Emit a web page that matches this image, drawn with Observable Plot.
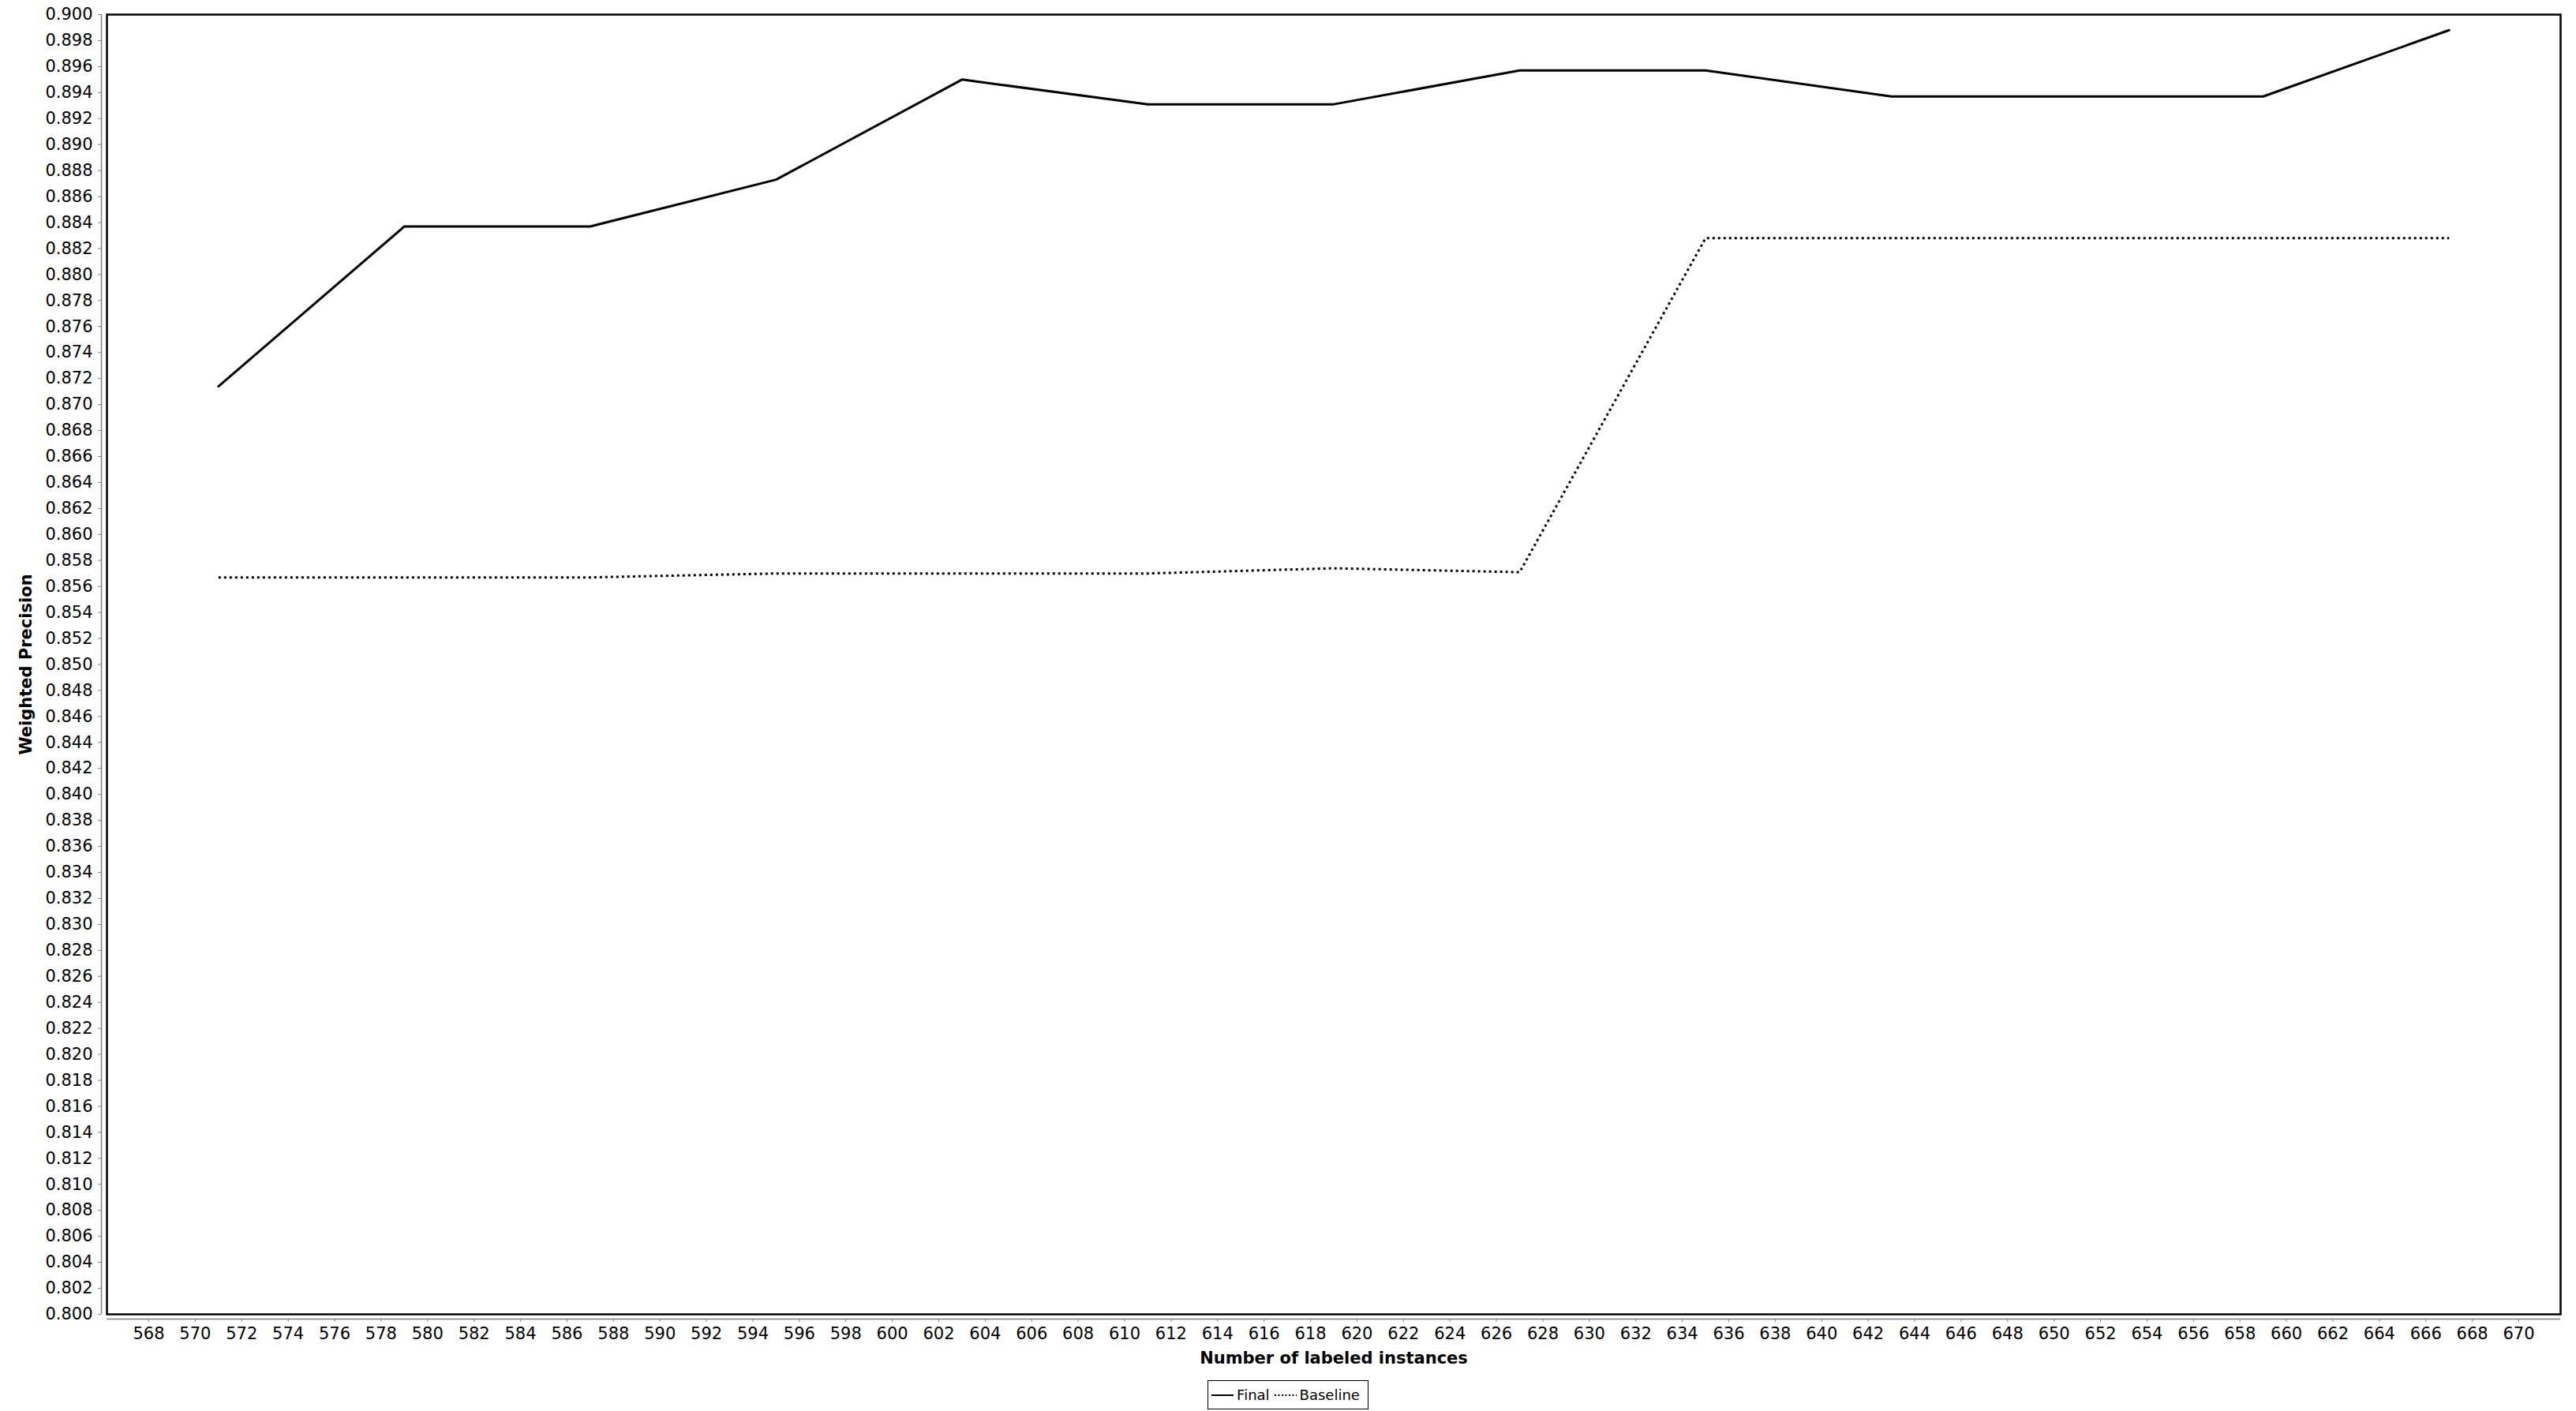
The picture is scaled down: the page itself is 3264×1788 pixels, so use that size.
<!DOCTYPE html>
<html>
<head>
<meta charset="utf-8">
<script src="https://cdn.jsdelivr.net/npm/d3@7"></script>
<script src="https://cdn.jsdelivr.net/npm/@observablehq/plot@0.6"></script>
<style>
  html, body { margin: 0; padding: 0; background: #fff; }
  #chart { width: 3264px; }
  #legend { width: 3264px; display: flex; justify-content: center; margin-top: 4px; }
  .legend-box { border: 1px solid #000; height: 35px; display: flex; align-items: center; padding: 0 4px 0 4px;
    font-family: "DejaVu Sans", sans-serif; font-size: 18px; color: #000; }
  .legend-box svg { display: block; }
  .legend-item { display: flex; align-items: center; margin-right: 6px; }
  .legend-item span { margin-left: 4px; }
</style>
</head>
<body>
<div id="chart"></div>
<div id="legend"></div>
<script>
// ---- data ----
const instances = [571, 579, 587, 595, 603, 611, 619, 627, 635, 643, 651, 659, 667];
const finalPrecision = [0.8714, 0.8837, 0.8837, 0.8873, 0.8950, 0.8931, 0.8931, 0.8957, 0.8957, 0.8937, 0.8937, 0.8937, 0.8988];
const baselinePrecision = [0.8567, 0.8567, 0.8567, 0.8570, 0.8570, 0.8570, 0.8574, 0.8571, 0.8828, 0.8828, 0.8828, 0.8828, 0.8828];
const seriesNames = ["Final", "Baseline"];
const xTicks = [568, 570, 572, 574, 576, 578, 580, 582, 584, 586, 588, 590, 592, 594, 596, 598, 600, 602, 604, 606, 608, 610, 612, 614, 616, 618, 620, 622, 624, 626, 628, 630, 632, 634, 636, 638, 640, 642, 644, 646, 648, 650, 652, 654, 656, 658, 660, 662, 664, 666, 668, 670];
const yTicks = [0.800, 0.802, 0.804, 0.806, 0.808, 0.810, 0.812, 0.814, 0.816, 0.818, 0.820, 0.822, 0.824, 0.826, 0.828, 0.830, 0.832, 0.834, 0.836, 0.838, 0.840, 0.842, 0.844, 0.846, 0.848, 0.850, 0.852, 0.854, 0.856, 0.858, 0.860, 0.862, 0.864, 0.866, 0.868, 0.870, 0.872, 0.874, 0.876, 0.878, 0.880, 0.882, 0.884, 0.886, 0.888, 0.890, 0.892, 0.894, 0.896, 0.898, 0.900];
const xDomain = [566.2, 671.8];
const yDomain = [0.800, 0.900];
const xLabel = "Number of labeled instances";
const yLabel = "Weighted Precision";

const finalData = instances.map((x, i) => ({x, y: finalPrecision[i]}));
const baselineData = instances.map((x, i) => ({x, y: baselinePrecision[i]}));

const chart = Plot.plot({
  width: 3264,
  height: 1745,
  marginLeft: 135,
  marginRight: 20,
  marginTop: 18,
  marginBottom: 80,
  style: {fontFamily: "DejaVu Sans, sans-serif", fontSize: "21px", background: "#fff", color: "#000"},
  x: {domain: xDomain},
  y: {domain: yDomain},
  marks: [
    Plot.ruleY([yDomain[0]], {dy: 6, stroke: "#808080", strokeWidth: 1.5}),
    Plot.ruleX([xDomain[0]], {dx: -7, stroke: "#808080", strokeWidth: 1.5}),
    Plot.axisX(xTicks, {dy: 6, tickSize: 4, tickPadding: 7, label: null, stroke: "#808080", fill: "#000", tickFormat: d3.format("d")}),
    Plot.axisY(yTicks, {dx: -7, tickSize: 4, tickPadding: 7, label: null, stroke: "#808080", fill: "#000", tickFormat: d3.format(".3f")}),
    Plot.line(baselineData, {x: "x", y: "y", stroke: "#000", strokeWidth: 3, strokeDasharray: "3,4", strokeLinecap: "butt"}),
    Plot.line(finalData, {x: "x", y: "y", stroke: "#000", strokeWidth: 3, strokeLinejoin: "miter"}),
    Plot.frame({stroke: "#000", strokeWidth: 2.5}),
    Plot.text([xLabel], {frameAnchor: "bottom", text: d => d, dy: 48, lineAnchor: "top", fontWeight: "bold", fontSize: 21, fill: "#000"}),
    Plot.text([yLabel], {frameAnchor: "left", text: d => d, dx: -102, rotate: -90, textAnchor: "middle", lineAnchor: "middle", fontWeight: "bold", fontSize: 21, fill: "#000"})
  ]
});
document.getElementById("chart").appendChild(chart);

// ---- legend ----
const legend = document.getElementById("legend");
const box = document.createElement("div");
box.className = "legend-box";
seriesNames.forEach((name, i) => {
  const item = document.createElement("div");
  item.className = "legend-item";
  const dash = i === 0 ? "" : 'stroke-dasharray="2,2.5"';
  item.innerHTML = `<svg width="28" height="10"><line x1="0" x2="28" y1="5" y2="5" stroke="#000" stroke-width="2" ${dash}></line></svg><span>${name}</span>`;
  box.appendChild(item);
});
legend.appendChild(box);
</script>
</body>
</html>
